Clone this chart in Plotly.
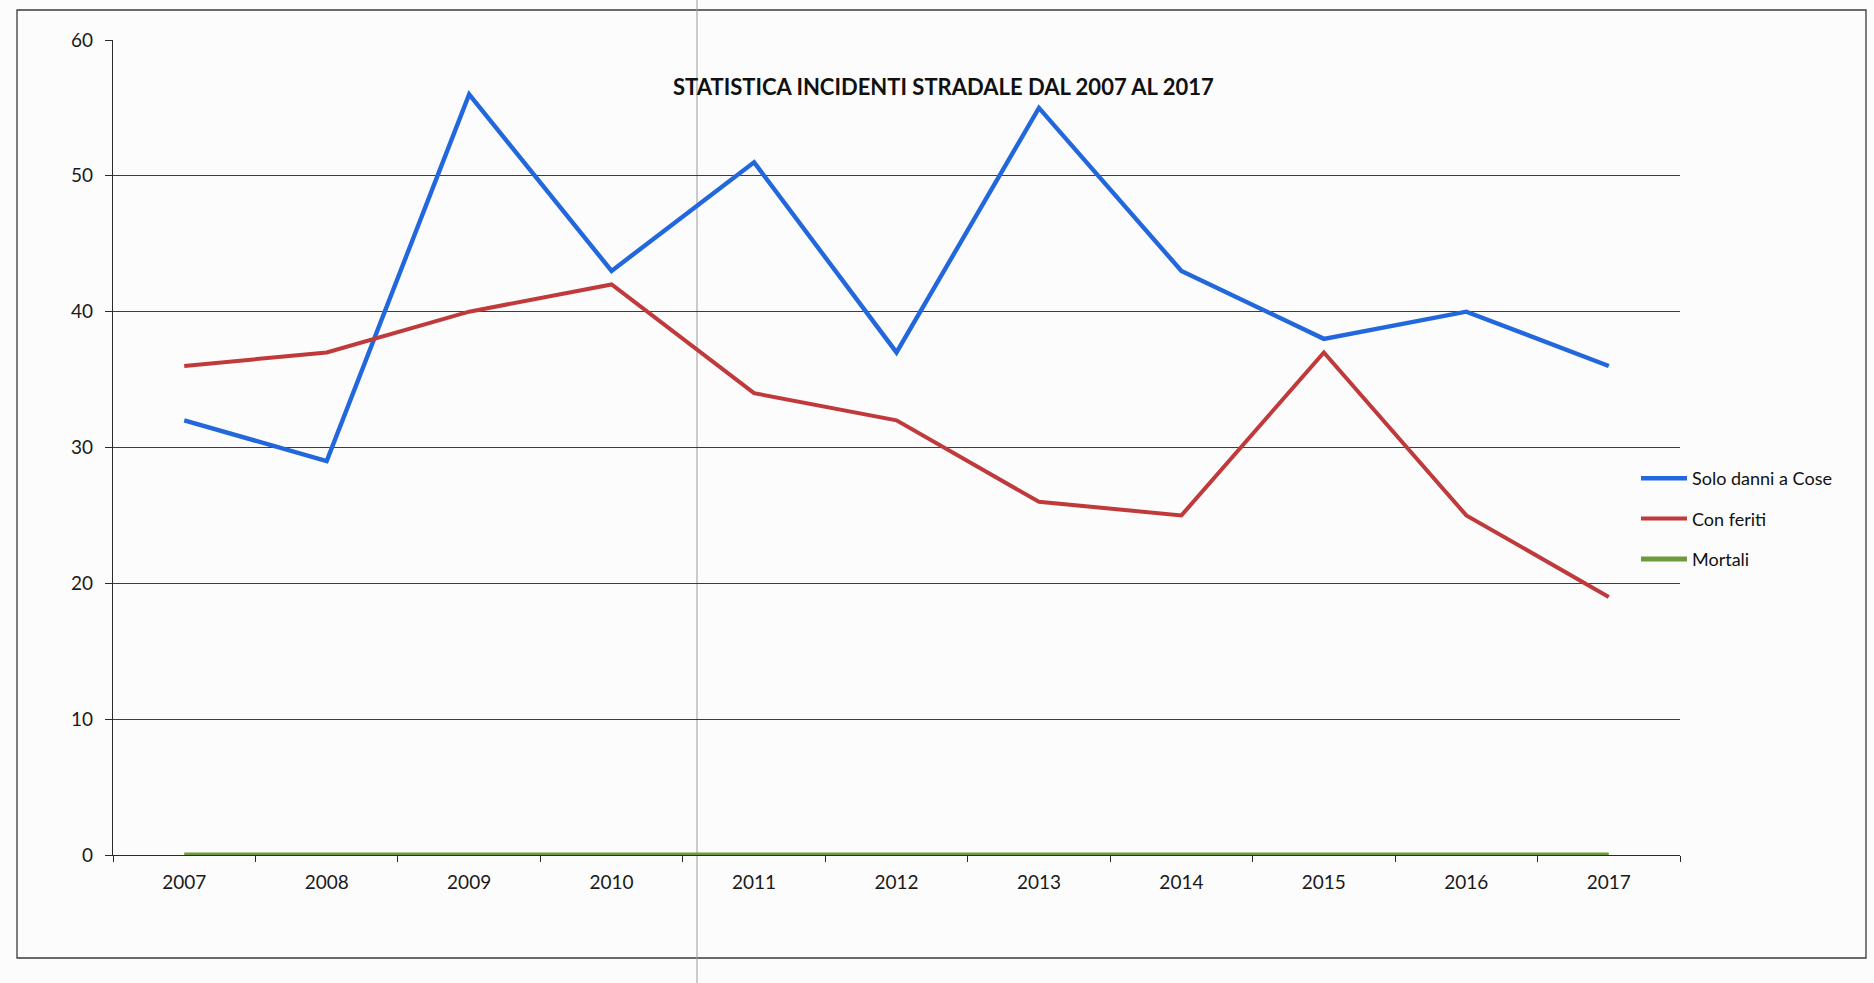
import plotly.graph_objects as go

# Road accident statistics 2007-2017
anni = ["2007", "2008", "2009", "2010", "2011", "2012", "2013", "2014", "2015", "2016", "2017"]
solo_danni_cose = [32, 29, 56, 43, 51, 37, 55, 43, 38, 40, 36]
con_feriti = [36, 37, 40, 42, 34, 32, 26, 25, 37, 25, 19]
mortali = [0, 0, 0, 0, 0, 0, 0, 0, 0, 0, 0]
y_ticks = [0, 10, 20, 30, 40, 50, 60]

W, H = 1874, 983
L, R, T, B = 113, 194, 40, 128
FONT = "Lato, 'Open Sans', sans-serif"


def px_x(p):
    return (p - L) / (W - L - R)


def px_y(p):
    return (H - B - p) / (H - T - B)


fig = go.Figure()
series = [
    ("Solo danni a Cose", solo_danni_cose, "#2268dc", 4.4),
    ("Con feriti", con_feriti, "#c0393b", 4.0),
    ("Mortali", mortali, "#6e9a3a", 5.0),
]
for name, vals, color, width in series:
    fig.add_trace(go.Scatter(
        x=anni, y=vals, name=name, mode="lines", legendgroup=name,
        line=dict(color=color, width=width),
        cliponaxis=False,
        hoverinfo="x+y+name",
    ))

shapes = [
    # outer chart border
    dict(type="rect", xref="paper", yref="paper",
         x0=px_x(17), x1=px_x(1866), y0=px_y(958), y1=px_y(10),
         line=dict(color="#3a3a3a", width=1.3), layer="below"),
    # page fold line
    dict(type="line", xref="paper", yref="paper",
         x0=px_x(697), x1=px_x(697), y0=px_y(983), y1=px_y(0),
         line=dict(color="#9a9a9a", width=1), layer="below"),
]

fig.update_layout(
    width=W, height=H,
    margin=dict(l=L, r=R, t=T, b=B, pad=0),
    paper_bgcolor="#fcfcfc",
    plot_bgcolor="rgba(0,0,0,0)",
    font=dict(family=FONT, color="#1a1a1a", size=19),
    shapes=shapes,
    annotations=[dict(
        text="<b>STATISTICA INCIDENTI STRADALE DAL 2007 AL 2017</b>",
        xref="paper", yref="paper", x=px_x(944), y=px_y(86),
        xanchor="center", yanchor="middle", showarrow=False,
        font=dict(family=FONT, size=22, color="#111111"),
    )],
    legend=dict(
        x=px_x(1636), xanchor="left", y=px_y(460), yanchor="top",
        bgcolor="rgba(0,0,0,0)", borderwidth=0,
        font=dict(family=FONT, size=18, color="#111111"),
        itemwidth=46, tracegroupgap=14,
    ),
    showlegend=True,
)

fig.update_xaxes(
    type="category", range=[-0.5, 10.5],
    showline=True, linecolor="#2a2a2a", linewidth=1.2,
    ticks="outside", tickson="boundaries", ticklen=6, tickcolor="#2a2a2a",
    showgrid=False, zeroline=False, layer="below traces",
    tickfont=dict(family=FONT, size=19, color="#1a1a1a"),
    ticklabelstandoff=10,
)
fig.update_yaxes(
    range=[0, 60], tickvals=y_ticks,
    showline=True, linecolor="#2a2a2a", linewidth=1.2,
    ticks="outside", ticklen=7, tickcolor="#2a2a2a",
    showgrid=True, gridcolor="#3c3c3c", gridwidth=1.1,
    zeroline=False, layer="below traces",
    tickfont=dict(family=FONT, size=19, color="#1a1a1a"),
    ticklabelstandoff=8,
)

fig.write_html("out.html")
